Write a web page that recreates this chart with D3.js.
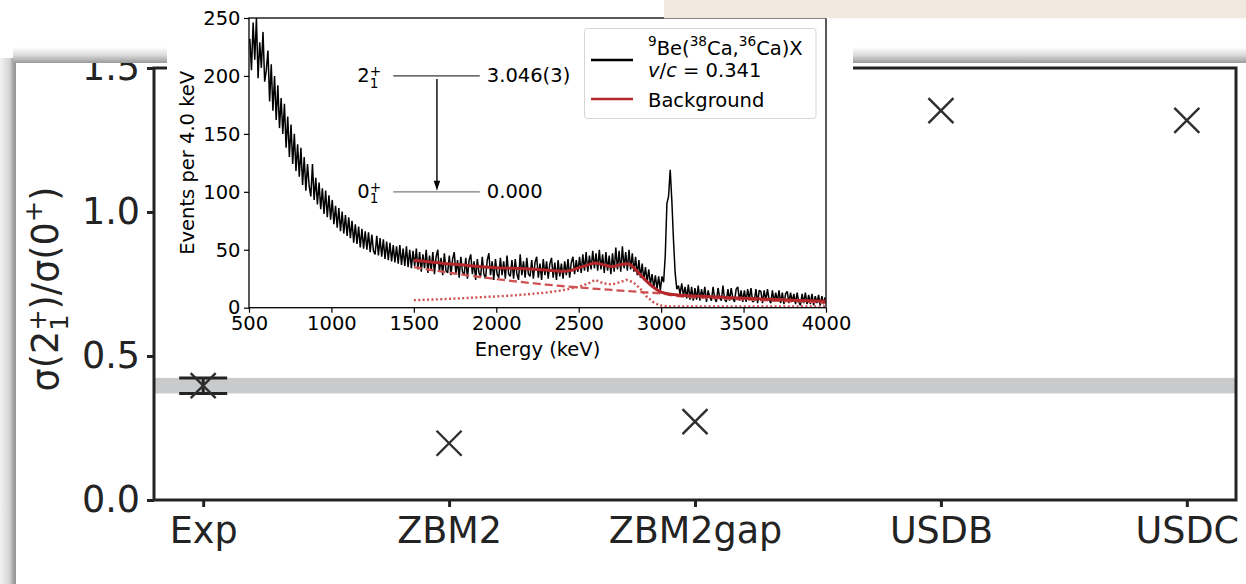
<!DOCTYPE html>
<html>
<head>
<meta charset="utf-8">
<script src="https://cdn.jsdelivr.net/npm/d3@7/dist/d3.min.js"></script>
<style>
  body { margin: 0; background: #fff; }
  svg { display: block; font-family: 'DejaVu Sans', sans-serif; }
</style>
</head>
<body>
<script>
// ---- main chart data ----
const models = ['Exp', 'ZBM2', 'ZBM2gap', 'USDB', 'USDC'];
const ratios = [0.397, 0.197, 0.272, 1.352, 1.318];
const expErr = 0.027;
const mainTicks = [0.0, 0.5, 1.0, 1.5];

// ---- inset spectrum: counts per 10 keV step, starting at 500 keV ----
const binStart = 500, binWidth = 10;
const counts = [
  232, 205, 246, 214, 250, 198, 229, 207, 238, 195,   // 500
  205, 222, 178, 210, 170, 200, 162, 192, 155, 181,   // 600
  150, 176, 138, 165, 130, 158, 124, 150, 118, 141,   // 700
  113, 138, 106, 130, 101, 124, 105, 96, 124, 93,     // 800
  112, 89, 108, 85, 103, 81, 101, 78, 97, 76,         // 900
  93, 72, 88, 69, 86, 66, 83, 64, 80, 62,             // 1000
  78, 60, 75, 56, 72, 55, 70, 52, 68, 51,             // 1100
  66, 50, 65, 48, 63, 49, 46, 62, 45, 60,             // 1200
  44, 59, 42, 57, 41, 56, 40, 54, 39, 53,             // 1300
  38, 54, 37, 51, 36, 53, 35, 50, 34, 49,             // 1400
  36, 51, 33, 48, 31, 46, 34, 50, 30, 45,             // 1500
  32, 48, 29, 44, 50, 31, 43, 28, 47, 32,             // 1600
  30, 45, 28, 42, 48, 29, 41, 26, 44, 31,             // 1700
  28, 43, 25, 41, 46, 29, 40, 24, 42, 30,             // 1800
  27, 44, 29, 25, 41, 47, 28, 40, 24, 42,             // 1900
  29, 26, 43, 28, 40, 25, 45, 29, 27, 41,             // 2000
  25, 42, 29, 24, 46, 28, 40, 26, 43, 29,             // 2100
  27, 41, 25, 39, 44, 26, 38, 24, 42, 28,             // 2200
  40, 25, 38, 43, 26, 39, 24, 41, 27, 38,             // 2300
  25, 40, 28, 42, 26, 39, 44, 29, 41, 31,             // 2400
  44, 30, 46, 32, 48, 31, 45, 33, 49, 34,             // 2500
  47, 32, 50, 33, 46, 30, 48, 32, 45, 29,             // 2600
  47, 31, 52, 33, 49, 31, 53, 34, 48, 32,             // 2700
  50, 33, 47, 31, 44, 28, 41, 26, 38, 24,             // 2800
  35, 22, 33, 20, 29, 17, 28, 16, 27, 15,             // 2900
  27, 22, 45, 90, 96, 119, 92, 58, 30, 16,            // 3000
  19, 12, 21, 10, 18, 8, 20, 7, 18, 6,                // 3100
  17, 7, 19, 6, 16, 8, 18, 5, 15, 9,                  // 3200
  6, 18, 8, 5, 17, 9, 6, 19, 7, 5,                    // 3300
  16, 6, 17, 8, 5, 16, 18, 6, 15, 5,                  // 3400
  15, 5, 16, 7, 17, 5, 6, 16, 4, 15,                  // 3500
  14, 4, 15, 6, 16, 7, 4, 15, 5, 13,                  // 3600
  5, 15, 4, 13, 3, 12, 14, 4, 13, 5,                  // 3700
  12, 3, 13, 5, 2, 12, 4, 13, 3, 11,                  // 3800
  3, 12, 2, 10, 4, 11, 2, 10, 3, 9                    // 3900
];

// background fit (total), its smooth part (dashed) and bump part (dotted)
const bgE = [1500, 1600, 1700, 1800, 1900, 2000, 2100, 2200, 2300, 2400, 2450, 2500, 2550, 2600, 2650, 2700, 2750, 2800, 2850, 2900, 2950, 3000, 3050, 3100, 3200, 3300, 3400, 3500, 3600, 3700, 3800, 3900, 4000];
const bgTotal = [41, 39.5, 38, 36.8, 35.5, 34.5, 34, 33.5, 32.5, 31.5, 32, 34.5, 36.5, 38.5, 37, 35.5, 37, 38, 32, 24.5, 18, 13.5, 11.8, 11, 10.2, 9.5, 8.8, 8.2, 7.6, 7, 6.5, 6, 5.5];
const dashE = [1500, 1700, 1900, 2100, 2300, 2500, 2700, 2900, 3000, 3100, 3300, 3500, 3700, 3900, 4000];
const dashVal = [35, 30.5, 26.5, 23, 20, 17.5, 15.3, 13.3, 12.3, 10, 8.5, 7.2, 6, 5, 4.5];
const dotE = [1500, 1700, 1900, 2100, 2300, 2400, 2500, 2560, 2600, 2650, 2700, 2750, 2790, 2830, 2870, 2910, 2950, 2990, 3050, 4000];
const dotVal = [6.5, 7.5, 9, 10.5, 13, 15, 18, 21, 24, 21, 20, 22, 24, 22, 17, 10, 5, 2, 1, 1];

const insetXTicks = [500, 1000, 1500, 2000, 2500, 3000, 3500, 4000];
const insetYTicks = [0, 50, 100, 150, 200, 250];

// level scheme (drawn in inset data units)
const levelLabels = ['2', '0'];
const levelEnergies = ['3.046(3)', '0.000'];
const levelCounts = [200, 100];

// ---- canvas ----
const W = 1246, H = 584;
const svg = d3.select('body').append('svg').attr('width', W).attr('height', H);
const defs = svg.append('defs');
svg.append('rect').attr('width', W).attr('height', H).attr('fill', '#fff');

// helper for mathtext-like labels: parts = [{t, s:'sub'|'sup'|'ssup', i, back}]
function richText(sel, parts, size) {
  let shift = 0;
  parts.forEach(p => {
    let target = 0, fs = size;
    if (p.s === 'sub') { target = 0.26 * size; fs = 0.7 * size; }
    if (p.s === 'ssup') { target = -0.34 * size; fs = 0.7 * size; }   // stacked over a subscript
    if (p.s === 'sup') { target = -0.45 * size; fs = 0.7 * size; }
    const ts = sel.append('tspan').text(p.t)
      .attr('font-size', fs)
      .attr('dy', target - shift);
    if (p.back) ts.attr('dx', -p.back * 0.7 * size);
    if (p.i) ts.attr('font-style', 'italic');
    shift = target;
  });
}

// ---- main panel (pasted figure with drop shadow) ----
const leftGrad = defs.append('linearGradient').attr('id', 'leftShadow')
  .attr('x1', 0).attr('x2', 1).attr('y1', 0).attr('y2', 0);
leftGrad.append('stop').attr('offset', 0).attr('stop-color', '#f3f3f3');
leftGrad.append('stop').attr('offset', 0.6).attr('stop-color', '#d4d4d4');
leftGrad.append('stop').attr('offset', 0.8).attr('stop-color', '#a9a9a9');
leftGrad.append('stop').attr('offset', 1).attr('stop-color', '#939393');
const topGrad = defs.append('linearGradient').attr('id', 'topShadow')
  .attr('x1', 0).attr('x2', 0).attr('y1', 0).attr('y2', 1);
topGrad.append('stop').attr('offset', 0).attr('stop-color', '#ffffff');
topGrad.append('stop').attr('offset', 0.5).attr('stop-color', '#dcdcdc');
topGrad.append('stop').attr('offset', 1).attr('stop-color', '#9a9a9a');

const panel = { x: 16, y: 63 };
svg.append('rect').attr('x', 0).attr('y', 58).attr('width', panel.x).attr('height', H - 58).attr('fill', 'url(#leftShadow)');
svg.append('rect').attr('x', 13).attr('y', 47).attr('width', W - 13).attr('height', panel.y - 47).attr('fill', 'url(#topShadow)');
svg.append('rect').attr('x', panel.x).attr('y', panel.y).attr('width', W - panel.x).attr('height', H - panel.y).attr('fill', '#fff');

defs.append('clipPath').attr('id', 'panelClip').append('rect')
  .attr('x', panel.x).attr('y', panel.y).attr('width', W - panel.x).attr('height', H - panel.y);
const main = svg.append('g').attr('clip-path', 'url(#panelClip)');

const mLeft = 154, mRight = 1236, mTop = 68, mBottom = 500;
const xMain = d3.scalePoint().domain(models).range([mLeft, mRight]).padding(0.2);
const yMain = d3.scaleLinear().domain([0, 1.5]).range([mBottom, mTop]);
const mainFont = 36.5, ink = '#232323';

// experimental band
main.append('rect')
  .attr('x', mLeft).attr('width', mRight - mLeft)
  .attr('y', yMain(ratios[0] + expErr))
  .attr('height', yMain(ratios[0] - expErr) - yMain(ratios[0] + expErr))
  .attr('fill', '#c9cacc');

// axes
const yAxisMain = d3.axisLeft(yMain).tickValues(mainTicks).tickFormat(d3.format('.1f'))
  .tickSize(7).tickSizeOuter(0).tickPadding(7);
const xAxisMain = d3.axisBottom(xMain).tickSize(7).tickSizeOuter(0).tickPadding(10);
const gy = main.append('g').attr('transform', `translate(${mLeft},0)`).call(yAxisMain);
const gx = main.append('g').attr('transform', `translate(0,${mBottom})`).call(xAxisMain);
[gx, gy].forEach(g => {
  g.select('.domain').remove();
  g.selectAll('line').attr('stroke', ink).attr('stroke-width', 3);
  g.selectAll('text').attr('font-size', mainFont).attr('fill', ink)
    .attr('font-family', "'DejaVu Sans', sans-serif");
});

main.append('rect')
  .attr('x', mLeft).attr('y', mTop).attr('width', mRight - mLeft).attr('height', mBottom - mTop)
  .attr('fill', 'none').attr('stroke', ink).attr('stroke-width', 3);

// y title
const yTitle = main.append('text')
  .attr('transform', `translate(58,289) rotate(-90)`)
  .attr('text-anchor', 'middle').attr('fill', ink).attr('font-size', mainFont);
richText(yTitle, [
  { t: 'σ(2' }, { t: '1', s: 'sub' }, { t: '+', s: 'ssup', back: 0.636 },
  { t: ')/σ(0' }, { t: '+', s: 'sup' }, { t: ')' }
], mainFont);

// error bar for experiment
const ex = xMain('Exp'), capW = 24;
const eb = main.append('g').attr('stroke', ink).attr('stroke-width', 3);
eb.append('line').attr('x1', ex).attr('x2', ex)
  .attr('y1', yMain(ratios[0] + expErr)).attr('y2', yMain(ratios[0] - expErr));
[ratios[0] + expErr, ratios[0] - expErr].forEach(v => {
  eb.append('line').attr('x1', ex - capW).attr('x2', ex + capW)
    .attr('y1', yMain(v)).attr('y2', yMain(v));
});

// x markers
const mk = 12.5;
main.selectAll('.pt').data(models).join('path')
  .attr('class', 'pt')
  .attr('d', `M${-mk},${-mk}L${mk},${mk}M${-mk},${mk}L${mk},${-mk}`)
  .attr('transform', (d, i) => `translate(${xMain(d)},${yMain(ratios[i])})`)
  .attr('stroke', '#2e2e2e').attr('stroke-width', 2.4).attr('fill', 'none');

// ---- inset ----
const inset = svg.append('g');
inset.append('rect').attr('x', 167).attr('y', 0).attr('width', 853 - 167).attr('height', 365).attr('fill', '#fff');

const iLeft = 249, iRight = 826, iTop = 18, iBottom = 307.7;
const iFont = 19.5;
const xIn = d3.scaleLinear().domain([500, 4000]).range([iLeft, iRight]);
const yIn = d3.scaleLinear().domain([0, 250]).range([iBottom, iTop]);

defs.append('clipPath').attr('id', 'insetClip').append('rect')
  .attr('x', iLeft).attr('y', iTop).attr('width', iRight - iLeft).attr('height', iBottom - iTop);

const gix = inset.append('g').attr('transform', `translate(0,${iBottom})`)
  .call(d3.axisBottom(xIn).tickValues(insetXTicks).tickFormat(d3.format('d')).tickSize(5).tickSizeOuter(0).tickPadding(3.5));
const giy = inset.append('g').attr('transform', `translate(${iLeft},0)`)
  .call(d3.axisLeft(yIn).tickValues(insetYTicks).tickFormat(d3.format('d')).tickSize(5).tickSizeOuter(0).tickPadding(3.5));
[gix, giy].forEach(g => {
  g.select('.domain').remove();
  g.selectAll('line').attr('stroke', '#000').attr('stroke-width', 1.2);
  g.selectAll('text').attr('font-size', iFont).attr('fill', '#000')
    .attr('font-family', "'DejaVu Sans', sans-serif");
});

inset.append('text').attr('x', (iLeft + iRight) / 2).attr('y', 356)
  .attr('text-anchor', 'middle').attr('font-size', iFont).text('Energy (keV)');
inset.append('text').attr('transform', `translate(194,${(iTop + iBottom) / 2}) rotate(-90)`)
  .attr('text-anchor', 'middle').attr('font-size', iFont).text('Events per 4.0 keV');

const plot = inset.append('g').attr('clip-path', 'url(#insetClip)');

// spectrum (dense noisy trace)
const spec = counts.map((c, i) => [binStart + (i + 0.5) * binWidth, c]);
plot.append('path').datum(spec)
  .attr('d', d3.line().x(d => xIn(d[0])).y(d => yIn(d[1])))
  .attr('fill', 'none').attr('stroke', '#000').attr('stroke-width', 1.5)
  .attr('stroke-linejoin', 'bevel');

const bgLine = d3.line().x(d => xIn(d[0])).y(d => yIn(d[1]));
plot.append('path').datum(d3.zip(dotE, dotVal))
  .attr('d', bgLine).attr('fill', 'none').attr('stroke', '#cf5050')
  .attr('stroke-width', 2.4).attr('stroke-dasharray', '2,2.4');
plot.append('path').datum(d3.zip(dashE, dashVal))
  .attr('d', d3.line().x(d => xIn(d[0])).y(d => yIn(d[1])).curve(d3.curveMonotoneX))
  .attr('fill', 'none').attr('stroke', '#cf5252')
  .attr('stroke-width', 2.3).attr('stroke-dasharray', '8,4');
plot.append('path').datum(d3.zip(bgE, bgTotal))
  .attr('d', d3.line().x(d => xIn(d[0])).y(d => yIn(d[1])).curve(d3.curveMonotoneX))
  .attr('fill', 'none').attr('stroke', '#b3262a').attr('stroke-width', 3);

inset.append('rect').attr('x', iLeft).attr('y', iTop).attr('width', iRight - iLeft).attr('height', iBottom - iTop)
  .attr('fill', 'none').attr('stroke', '#000').attr('stroke-width', 1.3);

// level scheme
const lvX0 = 1375, lvX1 = 1900, arrowE = 1640;
levelCounts.forEach((c, i) => {
  const y = yIn(c);
  inset.append('line').attr('x1', xIn(lvX0)).attr('x2', xIn(lvX1)).attr('y1', y).attr('y2', y)
    .attr('stroke', i === 0 ? '#3a3a3a' : '#7a7a7a').attr('stroke-width', 1.3);
  const lab = inset.append('text').attr('x', xIn(lvX0) - 36).attr('y', y + 6.5).attr('font-size', iFont);
  richText(lab, [{ t: levelLabels[i] }, { t: '1', s: 'sub' }, { t: '+', s: 'ssup', back: 0.636 }], iFont);
  inset.append('text').attr('x', xIn(lvX1) + 7).attr('y', y + 6.5).attr('font-size', iFont).text(levelEnergies[i]);
});
const ay0 = yIn(levelCounts[0]) + 3, ay1 = yIn(levelCounts[1]) - 1;
inset.append('line').attr('x1', xIn(arrowE)).attr('x2', xIn(arrowE)).attr('y1', ay0).attr('y2', ay1 - 8)
  .attr('stroke', '#000').attr('stroke-width', 1.4);
inset.append('path')
  .attr('d', `M${xIn(arrowE) - 3.2},${ay1 - 10}L${xIn(arrowE) + 3.2},${ay1 - 10}L${xIn(arrowE)},${ay1}Z`)
  .attr('fill', '#000');

// legend
const lg = inset.append('g');
lg.append('rect').attr('x', 584.5).attr('y', 28.5).attr('width', 231.5).attr('height', 90).attr('rx', 3)
  .attr('fill', '#fff').attr('fill-opacity', 0.85).attr('stroke', '#d5d5d5').attr('stroke-width', 1);
lg.append('line').attr('x1', 591).attr('x2', 633).attr('y1', 60).attr('y2', 60).attr('stroke', '#000').attr('stroke-width', 2.4);
lg.append('line').attr('x1', 591).attr('x2', 633).attr('y1', 99).attr('y2', 99).attr('stroke', '#b3262a').attr('stroke-width', 2.4);
const l1 = lg.append('text').attr('x', 648).attr('y', 55).attr('font-size', iFont);
richText(l1, [{ t: '9', s: 'sup' }, { t: 'Be(' }, { t: '38', s: 'sup' }, { t: 'Ca,' }, { t: '36', s: 'sup' }, { t: 'Ca)X' }], iFont);
const l2 = lg.append('text').attr('x', 648).attr('y', 77).attr('font-size', iFont);
richText(l2, [{ t: 'v', i: true }, { t: '/' }, { t: 'c', i: true }, { t: ' = 0.341' }], iFont);
lg.append('text').attr('x', 648).attr('y', 107).attr('font-size', iFont).text('Background');

// beige strip on top
svg.append('rect').attr('x', 664).attr('y', 0).attr('width', W - 664).attr('height', 18.3).attr('fill', '#f2e9de');
</script>
</body>
</html>
